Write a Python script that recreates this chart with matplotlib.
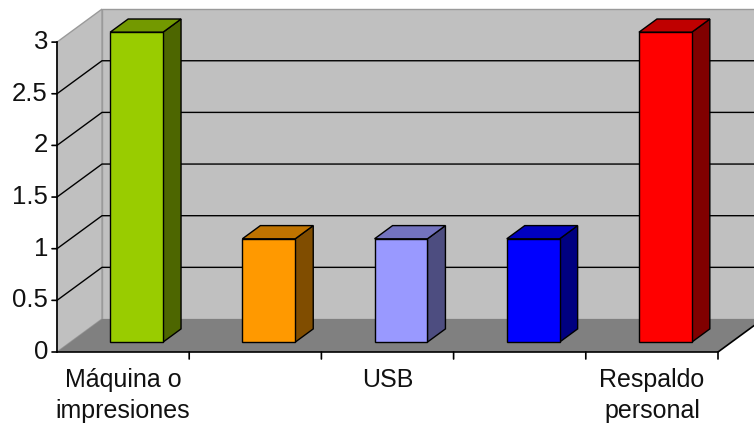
import matplotlib
matplotlib.use("Agg")
import matplotlib.pyplot as plt
from matplotlib.patches import Polygon

# data
categories = ["Máquina o\nimpresiones", "", "USB", "", "Respaldo\npersonal"]
values = [3, 1, 1, 1, 3]
front_colors = ["#99cc00", "#ff9900", "#9999ff", "#0000ff", "#ff0000"]
y_ticks = [0, 0.5, 1, 1.5, 2, 2.5, 3]
y_labels = ["0", "0.5", "1", "1.5", "2", "2.5", "3"]

# layout in pixels (figure is 754x429 at dpi 100)
W, H = 754, 429
X0, Y0 = 57, 352          # front-plane origin
CAT_W, UNIT = 132.2, 103.3
DEPTH_PX = (45, 33)
BAR_HALF = 0.2
BAR_D0, BAR_D1 = 0.30, 0.70
YMAX = 3

plt.rcParams["font.family"] = ["Liberation Sans", "DejaVu Sans"]

fig = plt.figure(figsize=(W / 100, H / 100), dpi=100)
ax = fig.add_axes([0, 0, 1, 1])
ax.set_xlim(-X0 / CAT_W, (W - X0) / CAT_W)
ax.set_ylim(-(H - Y0) / UNIT, Y0 / UNIT)
ax.axis("off")

DDX = DEPTH_PX[0] / CAT_W
DDY = DEPTH_PX[1] / UNIT
n = len(values)


def proj(x, y, d):
    return (x + d * DDX, y + d * DDY)


def shade(hex_color, f):
    r, g, b = matplotlib.colors.to_rgb(hex_color)
    return (r * f, g * f, b * f)


def poly(pts, fc, ec, lw=1.0, z=1):
    ax.add_patch(Polygon(pts, closed=True, facecolor=fc, edgecolor=ec,
                         linewidth=lw, zorder=z, joinstyle="miter"))


# walls
wall_ec = "#9a9a9a"
poly([proj(0, 0, 1), proj(n, 0, 1), proj(n, YMAX, 1), proj(0, YMAX, 1)],
     "#c0c0c0", wall_ec, z=1)
poly([proj(0, 0, 0), proj(0, 0, 1), proj(0, YMAX, 1), proj(0, YMAX, 0)],
     "#c0c0c0", wall_ec, z=1)
poly([proj(0, 0, 0), proj(n, 0, 0), proj(n, 0, 1), proj(0, 0, 1)],
     "#808080", "none", z=2)

# gridlines
for v in y_ticks[1:-1]:
    xs, ys = zip(proj(0, v, 0), proj(0, v, 1), proj(n, v, 1))
    ax.plot(xs, ys, color="black", lw=1, zorder=3)

# floor edges
xs, ys = zip(proj(0, 0, 0), proj(n, 0, 0), proj(n, 0, 1))
ax.plot(xs, ys, color="black", lw=1.2, zorder=4)

# value axis
ax.plot([0, 0], [0, YMAX], color="black", lw=1.2, zorder=4)
for v, lab in zip(y_ticks, y_labels):
    ax.annotate("", xy=(0, v), xytext=(-5, 0), textcoords="offset pixels",
                arrowprops=dict(arrowstyle="-", color="black", lw=1.2,
                                shrinkA=0, shrinkB=0))
    ax.annotate(lab, xy=(0, v), xytext=(-9, 0), textcoords="offset pixels",
                ha="right", va="center", fontsize=18.5, color="#111111")

# category ticks and labels
for i in range(1, n + 1):
    ax.annotate("", xy=(i, 0), xytext=(0, -7), textcoords="offset pixels",
                arrowprops=dict(arrowstyle="-", color="black", lw=1.2,
                                shrinkA=0, shrinkB=0))
for i, lab in enumerate(categories):
    if lab:
        ax.annotate(lab, xy=(i + 0.5, 0), xytext=(0, -16),
                    textcoords="offset pixels", ha="center", va="top",
                    fontsize=18, color="#111111", linespacing=1.38)

# bars
for i, (v, c) in enumerate(zip(values, front_colors)):
    l, r = i + 0.5 - BAR_HALF, i + 0.5 + BAR_HALF
    poly([proj(r, 0, BAR_D0), proj(r, 0, BAR_D1), proj(r, v, BAR_D1), proj(r, v, BAR_D0)],
         shade(c, 0.5), "black", z=5)
    poly([proj(l, v, BAR_D0), proj(r, v, BAR_D0), proj(r, v, BAR_D1), proj(l, v, BAR_D1)],
         shade(c, 0.75), "black", z=5)
    poly([proj(l, 0, BAR_D0), proj(r, 0, BAR_D0), proj(r, v, BAR_D0), proj(l, v, BAR_D0)],
         c, "black", z=6)

fig.savefig("out.png", dpi=100)
